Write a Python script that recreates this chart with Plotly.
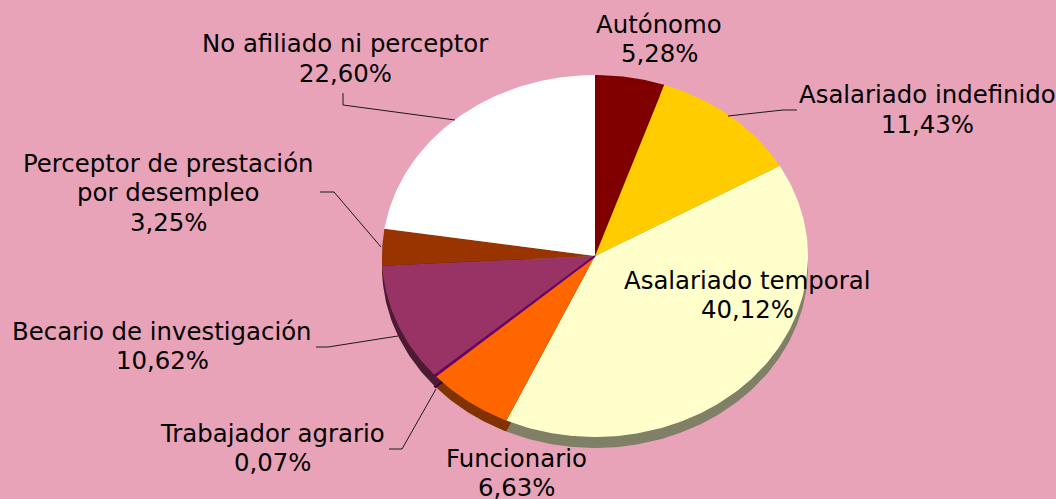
import math
import plotly.graph_objects as go

categories = ["Autónomo", "Asalariado indefinido", "Asalariado temporal", "Funcionario",
              "Trabajador agrario", "Becario de investigación",
              "Perceptor de prestación<br>por desempleo", "No afiliado ni perceptor"]
values = [5.28, 11.43, 40.12, 6.63, 0.07, 10.62, 3.25, 22.60]
colors = ["#800000", "#FFCC00", "#FFFFCC", "#FF6600", "#660066", "#993366", "#993300", "#FFFFFF"]
shadows = ["#400000", "#806600", "#808066", "#803300", "#330033", "#4D1A33", "#4D1A00", "#808080"]
label_first_line = [(659, 24), (927, 95), (747, 280), (516, 458), (272, 433), (162, 331), (168, 163), (345, 44)]
leaders = [None, [(797, 110), (783, 110), (728, 116)], None, None,
           [(389, 449), (402, 449), (436, 389)], [(316, 347), (328, 347), (398, 336)],
           [(320, 192), (334, 192), (381, 247)], [(343, 93), (343, 105), (455, 120)]]

W, H = 1056, 499
CX, CY, RX, RY = 595, 256, 213, 181
SHADOW_DROP = 11 / RY
LINE_STEP = 29.7
BG = "#E8A3B9"


def wedge(start, end, dy=0.0):
    steps = max(2, int((end - start) / 1.0) + 2)
    angles = [math.radians(start + (end - start) * i / (steps - 1)) for i in range(steps)]
    xs = [0.0] + [math.sin(a) for a in angles] + [0.0]
    ys = [dy] + [math.cos(a) + dy for a in angles] + [dy]
    return xs, ys


total = sum(values)
spans, running = [], 0.0
for v in values:
    spans.append((running / total * 360, (running + v) / total * 360))
    running += v

fig = go.Figure()
for (a, b), v, sc in zip(spans, values, shadows):
    xs, ys = wedge(a, b, -SHADOW_DROP)
    fig.add_trace(go.Scatter(x=xs, y=ys, mode="lines", fill="toself", fillcolor=sc,
                             line=dict(color=sc, width=2 if v < 1 else 0),
                             zorder=0, hoverinfo="skip", showlegend=False))
for (a, b), v, c, name in zip(spans, values, colors, categories):
    xs, ys = wedge(a, b)
    fig.add_trace(go.Scatter(x=xs, y=ys, mode="lines", fill="toself", fillcolor=c,
                             line=dict(color=c, width=2 if v < 1 else 0),
                             zorder=2 if v < 1 else 1,
                             name=name.replace("<br>", " "), hoverinfo="name", showlegend=False))

annotations = []
for name, v, (lx, ly) in zip(categories, values, label_first_line):
    lines = name.split("<br>") + [f"{v:.2f}%".replace(".", ",")]
    for i, line in enumerate(lines):
        annotations.append(dict(x=lx / W, y=1 - (ly + i * LINE_STEP) / H, xref="paper", yref="paper",
                                xanchor="center", yanchor="middle", showarrow=False, align="center",
                                text=line))

shapes = []
for path in leaders:
    if path:
        for (x0, y0), (x1, y1) in zip(path, path[1:]):
            shapes.append(dict(type="line", xref="paper", yref="paper",
                               x0=x0 / W, y0=1 - y0 / H, x1=x1 / W, y1=1 - y1 / H,
                               line=dict(color="#1a1a1a", width=1)))

fig.update_layout(
    width=W, height=H, margin=dict(l=0, r=0, t=0, b=0),
    paper_bgcolor=BG, plot_bgcolor=BG,
    font=dict(family="DejaVu Sans", size=24.4, color="#000000"),
    xaxis=dict(visible=False, range=[-CX / RX, (W - CX) / RX], fixedrange=True),
    yaxis=dict(visible=False, range=[-(H - CY) / RY, CY / RY], fixedrange=True),
    annotations=annotations, shapes=shapes, showlegend=False,
)
fig.write_html("out.html", config={"displayModeBar": False},
               post_script="document.body.style.margin='0';")
